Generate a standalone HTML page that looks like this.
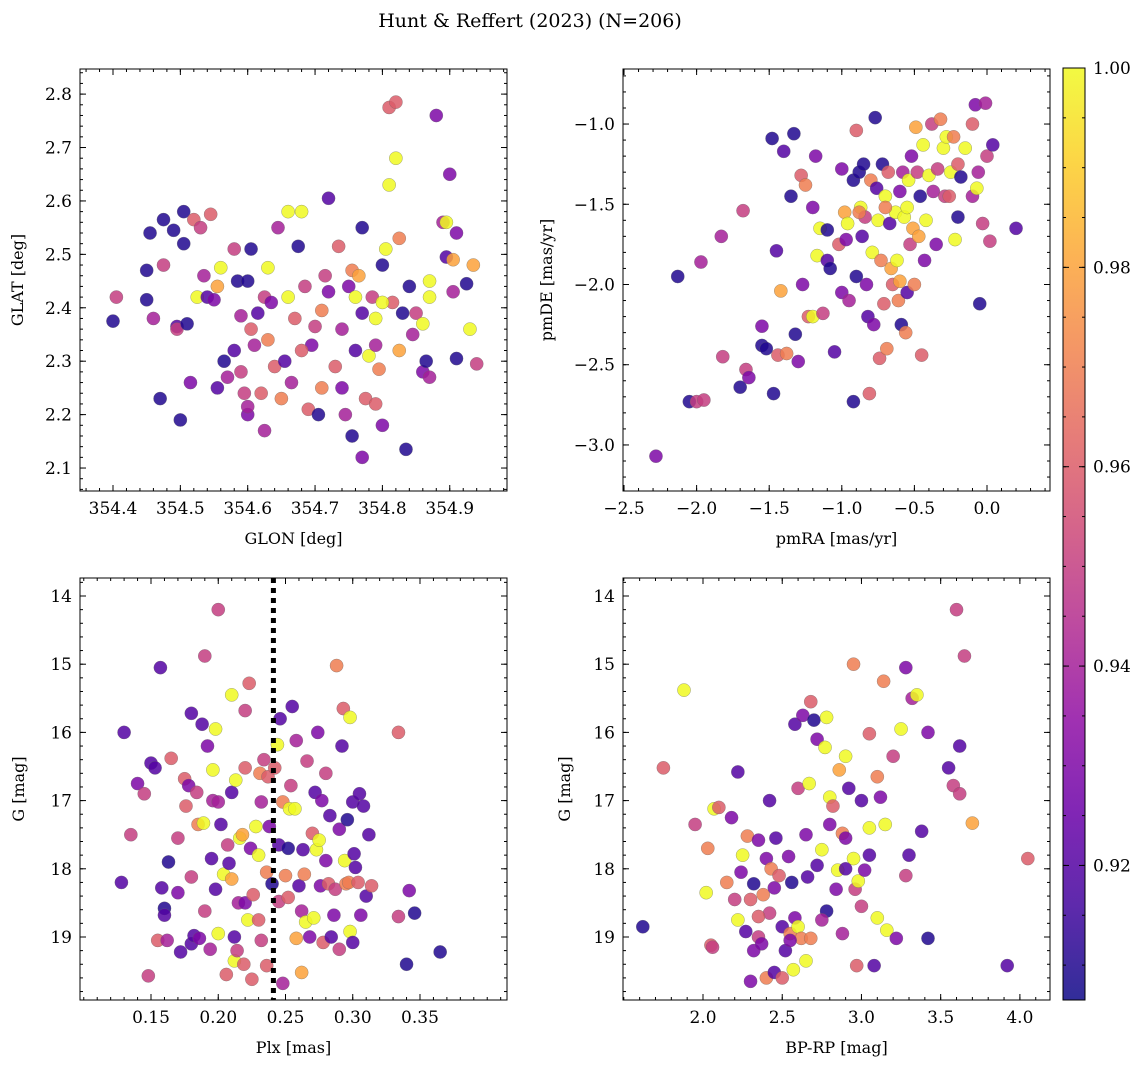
<!DOCTYPE html>
<html><head><meta charset="utf-8"><style>
body{margin:0;background:#fff;}
svg{display:block;font-family:"DejaVu Serif","Liberation Serif",serif;}
</style></head><body>
<svg id="fig" width="1148" height="1068" viewBox="0 0 1148 1068">
<text x="530" y="27" text-anchor="middle" font-size="19">Hunt &amp; Reffert (2023) (N=206)</text>
</svg>
<script>
const cmin=0.9065,cmax=1.0;
const p1=[[354.40,2.375,.91],[354.405,2.42,.95],[354.45,2.47,.91],[354.45,2.415,.91],[354.455,2.54,.91],[354.46,2.38,.94],[354.47,2.23,.91],[354.475,2.565,.91],[354.475,2.48,.95],[354.49,2.545,.91],[354.495,2.365,.92],[354.495,2.36,.95],[354.50,2.19,.91],[354.505,2.58,.91],[354.505,2.52,.91],[354.51,2.37,.91],[354.515,2.26,.93],[354.52,2.565,.96],[354.525,2.42,1.0],[354.53,2.55,.95],[354.535,2.46,.94],[354.54,2.42,.92],[354.545,2.575,.96],[354.55,2.415,.93],[354.555,2.25,.92],[354.555,2.44,.98],[354.56,2.475,1.0],[354.565,2.30,.91],[354.57,2.27,.94],[354.58,2.32,.92],[354.585,2.45,.91],[354.59,2.385,.94],[354.59,2.28,.95],[354.595,2.24,.95],[354.6,2.2,.93],[354.6,2.215,.94],[354.605,2.51,.91],[354.605,2.36,.96],[354.61,2.33,.94],[354.615,2.39,.92],[354.62,2.24,.96],[354.625,2.17,.94],[354.625,2.42,.95],[354.63,2.34,.97],[354.63,2.475,1.0],[354.635,2.41,.93],[354.64,2.29,.96],[354.645,2.55,.94],[354.65,2.23,.97],[354.655,2.3,.92],[354.66,2.42,1.0],[354.66,2.58,1.0],[354.665,2.26,.94],[354.67,2.38,.96],[354.675,2.515,.91],[354.68,2.58,1.0],[354.685,2.44,.95],[354.69,2.21,.96],[354.695,2.33,.93],[354.7,2.365,.95],[354.705,2.2,.91],[354.71,2.395,.97],[354.71,2.25,.97],[354.715,2.46,.95],[354.72,2.605,.92],[354.72,2.43,.93],[354.73,2.29,.96],[354.735,2.515,.96],[354.74,2.36,.94],[354.745,2.2,.94],[354.75,2.44,.93],[354.755,2.47,.97],[354.755,2.16,.91],[354.76,2.32,.92],[354.765,2.46,.98],[354.77,2.12,.93],[354.77,2.39,.92],[354.77,2.55,.91],[354.775,2.23,.96],[354.78,2.31,1.0],[354.785,2.42,.95],[354.79,2.38,1.0],[354.795,2.285,.97],[354.80,2.18,.93],[354.80,2.48,.91],[354.805,2.51,1.0],[354.81,2.775,.96],[354.81,2.63,1.0],[354.815,2.41,.96],[354.82,2.68,1.0],[354.82,2.785,.96],[354.825,2.53,.97],[354.825,2.32,.98],[354.83,2.39,.91],[354.835,2.135,.91],[354.84,2.44,.91],[354.845,2.35,.94],[354.85,2.39,.95],[354.86,2.28,.93],[354.86,2.37,1.0],[354.865,2.3,.91],[354.87,2.27,.94],[354.87,2.42,1.0],[354.87,2.45,1.0],[354.88,2.76,.93],[354.89,2.56,.94],[354.895,2.495,.92],[354.895,2.56,1.0],[354.90,2.65,.93],[354.905,2.43,.94],[354.905,2.49,.98],[354.91,2.54,.93],[354.91,2.305,.91],[354.925,2.445,.91],[354.93,2.36,1.0],[354.935,2.48,.98],[354.94,2.295,.95],[354.8,2.41,1.0],[354.74,2.25,.93],[354.76,2.42,1.0],[354.79,2.33,.94],[354.79,2.22,.96],[354.68,2.32,.96],[354.6,2.45,.91],[354.58,2.51,.95]];
const p2=[[-2.28,-3.07,.93],[-2.13,-1.95,.91],[-2.05,-2.73,.91],[-2.0,-2.73,.95],[-1.97,-1.86,.94],[-1.95,-2.72,.95],[-1.83,-1.70,.94],[-1.82,-2.45,.95],[-1.7,-2.64,.91],[-1.68,-1.54,.95],[-1.66,-2.53,.95],[-1.64,-2.58,.93],[-1.55,-2.26,.93],[-1.55,-2.38,.91],[-1.52,-2.40,.91],[-1.48,-1.09,.91],[-1.47,-2.68,.91],[-1.45,-1.79,.92],[-1.44,-2.44,.96],[-1.42,-2.04,.98],[-1.4,-1.17,.92],[-1.38,-2.43,.97],[-1.35,-1.45,.91],[-1.33,-1.06,.91],[-1.32,-2.31,.91],[-1.3,-2.48,.93],[-1.28,-1.32,.96],[-1.27,-2.0,.93],[-1.25,-1.38,.97],[-1.23,-2.2,.96],[-1.2,-2.2,1.0],[-1.2,-1.52,.93],[-1.18,-1.2,.93],[-1.17,-1.82,1.0],[-1.15,-1.65,1.0],[-1.13,-2.18,.95],[-1.1,-1.85,.92],[-1.1,-1.66,.91],[-1.08,-1.9,.91],[-1.05,-2.42,.92],[-1.02,-1.75,.96],[-1.0,-2.05,.93],[-0.98,-1.55,.98],[-0.97,-1.72,.93],[-0.95,-2.1,.94],[-0.92,-1.35,.91],[-0.92,-2.73,.91],[-0.9,-1.95,.91],[-0.9,-1.04,.96],[-0.88,-1.3,.91],[-0.87,-1.52,1.0],[-0.86,-1.7,.92],[-0.85,-1.25,.91],[-0.84,-1.58,.95],[-0.83,-2.0,.93],[-0.82,-2.2,.92],[-0.81,-2.68,.96],[-0.8,-1.35,.97],[-0.79,-1.8,1.0],[-0.78,-2.25,.93],[-0.77,-0.96,.91],[-0.76,-1.4,.92],[-0.75,-1.6,1.0],[-0.74,-2.46,.96],[-0.73,-1.85,.97],[-0.72,-1.25,.91],[-0.71,-2.12,.96],[-0.7,-1.45,1.0],[-0.69,-2.4,.97],[-0.68,-1.3,.96],[-0.67,-1.62,.92],[-0.66,-1.9,.98],[-0.65,-2.0,.96],[-0.63,-1.55,1.0],[-0.62,-1.85,1.0],[-0.61,-2.1,.97],[-0.6,-1.42,.93],[-0.59,-2.25,.91],[-0.58,-1.3,.94],[-0.57,-1.58,1.0],[-0.56,-2.3,.97],[-0.55,-2.05,.92],[-0.54,-1.35,1.0],[-0.53,-1.75,.95],[-0.52,-1.2,.93],[-0.51,-1.65,.98],[-0.5,-2.0,.97],[-0.49,-1.02,.98],[-0.48,-1.3,.95],[-0.47,-1.7,.98],[-0.46,-1.45,.91],[-0.45,-2.44,.96],[-0.44,-1.13,1.0],[-0.43,-1.85,.93],[-0.42,-1.6,1.0],[-0.4,-1.32,1.0],[-0.38,-1.0,.95],[-0.37,-1.42,.94],[-0.35,-1.75,.93],[-0.34,-1.28,.95],[-0.32,-0.97,.97],[-0.3,-1.15,1.0],[-0.29,-1.45,.95],[-0.28,-1.08,1.0],[-0.26,-1.45,.96],[-0.25,-1.3,1.0],[-0.23,-1.08,.97],[-0.22,-1.72,1.0],[-0.2,-1.58,.91],[-0.2,-1.25,.96],[-0.18,-1.33,.91],[-0.15,-1.15,1.0],[-0.1,-1.45,.94],[-0.1,-1.0,.96],[-0.08,-0.88,.93],[-0.07,-1.4,1.0],[-0.06,-1.3,.94],[-0.05,-2.12,.91],[-0.03,-1.62,.95],[-0.01,-0.87,.94],[0.0,-1.2,.95],[0.02,-1.73,.95],[0.04,-1.13,.92],[0.2,-1.65,.92],[-0.6,-1.98,.98],[-0.88,-1.55,.97],[-1.0,-1.28,.93],[-0.96,-1.62,1.0],[-0.7,-1.52,.97],[-0.55,-1.52,1.0]];
const p3=[[0.128,18.2,.92],[0.13,16.0,.92],[0.135,17.5,.95],[0.14,16.75,.93],[0.145,16.9,.95],[0.148,19.57,.95],[0.15,16.45,.92],[0.153,16.52,.92],[0.155,19.05,.96],[0.157,15.05,.92],[0.158,18.28,.92],[0.16,18.58,.91],[0.16,18.68,.92],[0.162,19.05,.94],[0.163,17.9,.91],[0.165,16.38,.96],[0.17,17.55,.95],[0.17,18.35,.93],[0.172,19.22,.92],[0.175,16.68,.96],[0.176,17.08,.96],[0.178,16.78,.93],[0.18,18.12,.95],[0.18,19.1,.92],[0.18,15.72,.92],[0.182,18.98,.92],[0.184,16.88,.95],[0.185,17.35,.97],[0.186,19.02,.93],[0.188,15.88,.92],[0.189,17.33,1.0],[0.19,18.62,.95],[0.19,14.88,.95],[0.192,16.2,.93],[0.194,19.18,.94],[0.195,17.85,.92],[0.196,17.0,.94],[0.196,16.55,1.0],[0.198,18.3,.92],[0.198,15.95,1.0],[0.2,14.2,.95],[0.2,17.02,.94],[0.2,18.95,1.0],[0.202,17.35,.92],[0.204,18.08,1.0],[0.206,19.55,.96],[0.207,17.65,.95],[0.208,17.92,.92],[0.21,16.88,.92],[0.21,15.45,1.0],[0.21,18.15,.98],[0.212,19.0,.92],[0.212,19.35,1.0],[0.213,16.7,1.0],[0.214,19.2,.95],[0.215,18.5,.94],[0.216,17.55,1.0],[0.218,17.5,.98],[0.219,19.4,.96],[0.22,15.68,.95],[0.22,18.5,.93],[0.22,16.52,.96],[0.222,18.75,1.0],[0.223,15.28,.96],[0.224,17.7,.93],[0.225,19.62,.96],[0.226,18.38,.96],[0.228,17.38,1.0],[0.23,17.8,1.0],[0.23,18.75,.96],[0.231,16.6,.97],[0.232,17.02,.94],[0.232,19.05,.95],[0.234,16.4,.95],[0.236,19.42,.96],[0.236,18.05,.97],[0.237,16.65,.96],[0.238,17.38,.93],[0.24,18.22,.91],[0.242,16.52,.96],[0.244,16.18,1.0],[0.245,17.65,.92],[0.245,18.48,.95],[0.246,15.8,.92],[0.248,19.68,.94],[0.248,17.02,.97],[0.25,18.1,.97],[0.252,17.7,.91],[0.252,18.42,.96],[0.253,17.12,1.0],[0.254,16.78,.95],[0.255,15.62,.92],[0.257,17.12,1.0],[0.258,19.02,.98],[0.258,16.12,.94],[0.26,18.25,.92],[0.262,18.62,.94],[0.262,19.52,.98],[0.263,17.72,.92],[0.264,18.08,.97],[0.265,18.78,1.0],[0.266,16.42,.95],[0.268,19.0,.93],[0.27,17.48,.96],[0.271,18.72,1.0],[0.272,16.88,.92],[0.273,17.72,1.0],[0.274,16.0,.93],[0.275,17.58,1.0],[0.276,18.25,.93],[0.277,17.0,.93],[0.278,19.08,.96],[0.28,16.6,.95],[0.28,17.88,.93],[0.282,18.22,.96],[0.283,17.22,.92],[0.284,19.0,.92],[0.286,18.68,.93],[0.287,18.3,.95],[0.288,15.02,.97],[0.29,19.18,.95],[0.29,17.42,.93],[0.292,16.2,.92],[0.293,15.65,.96],[0.294,17.88,1.0],[0.295,18.22,.97],[0.296,17.28,.91],[0.297,18.2,.97],[0.298,15.78,1.0],[0.298,18.92,1.0],[0.3,17.02,.92],[0.3,19.08,.92],[0.301,17.78,.92],[0.302,17.98,.92],[0.304,18.2,.96],[0.305,16.9,.92],[0.306,18.68,.93],[0.308,17.08,.92],[0.31,18.4,.92],[0.312,17.5,.92],[0.314,18.25,.96],[0.334,16.0,.96],[0.334,18.7,.95],[0.34,19.4,.91],[0.342,18.32,.93],[0.346,18.65,.91],[0.365,19.22,.91]];
const p4=[[1.62,18.85,.91],[1.75,16.52,.96],[1.88,15.38,1.0],[1.95,17.35,.95],[2.02,18.35,1.0],[2.03,17.7,.97],[2.05,19.12,.96],[2.06,19.15,.95],[2.07,17.12,1.0],[2.1,17.1,.96],[2.15,18.2,.97],[2.18,17.25,.93],[2.2,18.45,.95],[2.22,16.58,.92],[2.22,18.75,1.0],[2.24,18.05,.93],[2.25,17.8,1.0],[2.27,18.92,.92],[2.28,17.52,.97],[2.3,19.65,.93],[2.3,18.45,.96],[2.32,19.2,.93],[2.32,18.22,.91],[2.35,19.0,.95],[2.35,17.58,.93],[2.37,19.1,.93],[2.38,18.38,.97],[2.4,19.6,.97],[2.4,17.85,.93],[2.42,17.0,.92],[2.42,18.65,.95],[2.43,18.0,.97],[2.45,19.52,.92],[2.45,18.28,.93],[2.46,17.55,.92],[2.48,18.1,.96],[2.5,18.85,.92],[2.5,19.6,.96],[2.52,19.2,.92],[2.54,17.82,.93],[2.55,18.95,.97],[2.56,18.2,.91],[2.57,19.48,1.0],[2.58,18.72,.93],[2.58,15.88,.92],[2.6,18.85,1.0],[2.6,16.82,.95],[2.62,19.02,.97],[2.63,15.75,.93],[2.65,19.35,1.0],[2.66,18.12,.92],[2.67,16.75,1.0],[2.68,15.55,.96],[2.68,19.02,.97],[2.7,15.82,.91],[2.72,17.95,.92],[2.72,16.1,.93],[2.75,17.72,1.0],[2.77,16.22,1.0],[2.78,15.78,1.0],[2.78,18.62,.91],[2.8,16.95,1.0],[2.8,17.35,.93],[2.82,17.08,.96],[2.84,18.3,.93],[2.85,18.02,1.0],[2.86,16.55,.98],[2.88,17.48,.97],[2.88,18.95,.94],[2.9,16.35,1.0],[2.9,17.55,.93],[2.92,16.82,.92],[2.95,17.85,1.0],[2.95,15.0,.97],[2.96,18.3,.95],[2.97,19.42,.96],[2.98,18.18,1.0],[3.0,17.0,.92],[3.0,18.55,.95],[3.02,18.02,.93],[3.05,16.02,.96],[3.05,17.4,1.0],[3.08,19.42,.92],[3.1,16.65,.97],[3.1,18.72,1.0],[3.12,16.95,.93],[3.14,15.25,.97],[3.15,17.35,1.0],[3.16,18.9,1.0],[3.2,16.35,.95],[3.22,19.02,.93],[3.25,15.95,1.0],[3.28,15.05,.93],[3.28,18.1,.95],[3.3,17.8,.92],[3.32,15.5,.94],[3.35,15.45,1.0],[3.38,17.45,.92],[3.42,16.0,.93],[3.42,19.02,.91],[3.55,16.52,.92],[3.58,16.78,.95],[3.6,14.2,.95],[3.62,16.2,.92],[3.62,16.9,.95],[3.65,14.88,.95],[3.7,17.33,.98],[3.92,19.42,.92],[4.05,17.85,.96],[2.9,18.0,.92],[2.75,18.75,.94],[2.55,19.05,.93],[3.05,17.8,.92],[2.35,18.7,.96],[2.65,17.5,.93]];
const plxCut=0.241;
const ticks1x=[354.4,354.5,354.6,354.7,354.8,354.9], ticks1y=[2.1,2.2,2.3,2.4,2.5,2.6,2.7,2.8];
const ticks2x=[-2.5,-2.0,-1.5,-1.0,-0.5,0.0], ticks2y=[-1.0,-1.5,-2.0,-2.5,-3.0];
const ticks3x=[0.15,0.20,0.25,0.30,0.35], ticksG=[14,15,16,17,18,19];
const ticks4x=[2.0,2.5,3.0,3.5,4.0], ticksC=[0.92,0.94,0.96,0.98,1.00];

const NS="http://www.w3.org/2000/svg", svg=document.getElementById('fig');
function mk(tag,attrs,parent){const e=document.createElementNS(NS,tag);for(const k in attrs)e.setAttribute(k,attrs[k]);(parent||svg).appendChild(e);return e;}
const stops=["#0d0887","#41049d","#6a00a8","#8f0da4","#b12a90","#cc4778","#e16462","#f2844b","#fca636","#fcce25","#f0f921"];
function hex(h){return [1,3,5].map(i=>parseInt(h.substr(i,2),16));}
function plasma(t){t=Math.max(0,Math.min(1,t));const f=t*10,i=Math.min(9,Math.floor(f)),u=f-i;const a=hex(stops[i]),b=hex(stops[i+1]);return 'rgb('+a.map((v,k)=>Math.round(v+(b[k]-v)*u)).join(',')+')';}
function fmt(v,d){return v.toFixed(d).replace('-','\u2212');}

function panel(o){
  const g=mk('g',{});
  
  
  const sx=v=>o.x0+(v-o.xmin)/(o.xmax-o.xmin)*(o.x1-o.x0);
  const sy=v=>o.ylo_top? o.y0+(v-o.ymin)/(o.ymax-o.ymin)*(o.y1-o.y0) : o.y1-(v-o.ymin)/(o.ymax-o.ymin)*(o.y1-o.y0);
  const pts=mk('g',{},g);
  
  
  o.data.forEach(d=>{
    const c=mk('circle',{cx:sx(d[0]),cy:sy(d[1]),r:6.6,fill:plasma((d[2]-cmin)/(cmax-cmin)),'fill-opacity':0.85,stroke:'#666','stroke-width':0.5,'stroke-opacity':0.6},pts);
    
    
  });
  if(o.vline!==undefined){
    const l=mk('line',{x1:sx(o.vline),x2:sx(o.vline),y1:o.y0,y2:o.y1,stroke:'#000','stroke-width':5,'stroke-dasharray':'5,5'},g);
    
    
  }
  mk('rect',{x:o.x0,y:o.y0,width:o.x1-o.x0,height:o.y1-o.y0,fill:'none',stroke:'#000','stroke-width':1},g);
  for(let v=Math.ceil(o.xmin/o.xm)*o.xm;v<=o.xmax;v+=o.xm){const X=sx(v);mk('line',{x1:X,x2:X,y1:o.y1,y2:o.y1-3,stroke:'#000'},g);mk('line',{x1:X,x2:X,y1:o.y0,y2:o.y0+3,stroke:'#000'},g);}
  for(let v=Math.ceil(o.ymin/o.ym)*o.ym;v<=o.ymax;v+=o.ym){const Y=sy(v);mk('line',{x1:o.x0,x2:o.x0+3,y1:Y,y2:Y,stroke:'#000'},g);mk('line',{x1:o.x1,x2:o.x1-3,y1:Y,y2:Y,stroke:'#000'},g);}
  o.xt.forEach(v=>{const X=sx(v);mk('line',{x1:X,x2:X,y1:o.y1,y2:o.y1-6,stroke:'#000'},g);mk('line',{x1:X,x2:X,y1:o.y0,y2:o.y0+6,stroke:'#000'},g);
    const t=mk('text',{x:X,y:o.y1+23,'text-anchor':'middle','font-size':17},g);t.textContent=fmt(v,o.xd);
    });
  o.yt.forEach(v=>{const Y=sy(v);mk('line',{x1:o.x0,x2:o.x0+6,y1:Y,y2:Y,stroke:'#000'},g);mk('line',{x1:o.x1,x2:o.x1-6,y1:Y,y2:Y,stroke:'#000'},g);
    const t=mk('text',{x:o.x0-8,y:Y+6,'text-anchor':'end','font-size':17},g);t.textContent=fmt(v,o.yd);
    });
  const xl=mk('text',{x:(o.x0+o.x1)/2,y:o.y1+53,'text-anchor':'middle','font-size':16},g);xl.textContent=o.xlab;
  
  const yl=mk('text',{x:0,y:0,'text-anchor':'middle','font-size':16,transform:`translate(${o.ylx},${(o.y0+o.y1)/2}) rotate(-90)`},g);yl.textContent=o.ylab;
  
}
panel({name:'glon-glat-panel',data:p1,x0:80,x1:507,y0:69,y1:491,xmin:354.351,xmax:354.985,ymin:2.057,ymax:2.847,xm:0.02,ym:0.02,xt:ticks1x,yt:ticks1y,xd:1,yd:1,xlab:'GLON [deg]',ylab:'GLAT [deg]',ylx:23});
panel({name:'proper-motion-panel',data:p2,x0:623,x1:1050,y0:69,y1:491,xmin:-2.507,xmax:0.434,ymin:-3.287,ymax:-0.657,xm:0.1,ym:0.1,xt:ticks2x,yt:ticks2y,xd:1,yd:1,xlab:'pmRA [mas/yr]',ylab:'pmDE [mas/yr]',ylx:552});
panel({name:'plx-g-panel',data:p3,x0:80,x1:507,y0:578,y1:1000,xmin:0.0972,xmax:0.4147,ymin:13.736,ymax:19.924,ylo_top:true,xm:0.01,ym:0.2,xt:ticks3x,yt:ticksG,xd:2,yd:0,xlab:'Plx [mas]',ylab:'G [mag]',ylx:24,vline:plxCut});
panel({name:'color-magnitude-panel',data:p4,x0:623,x1:1050,y0:578,y1:1000,xmin:1.495,xmax:4.19,ymin:13.736,ymax:19.924,ylo_top:true,xm:0.1,ym:0.2,xt:ticks4x,yt:ticksG,xd:1,yd:0,xlab:'BP-RP [mag]',ylab:'G [mag]',ylx:570});

const cb=mk('g',{});


const defs=mk('defs',{},cb);const lg=mk('linearGradient',{id:'pl',x1:0,y1:1,x2:0,y2:0},defs);
stops.forEach((s,i)=>mk('stop',{offset:i/10,'stop-color':s,'stop-opacity':0.85},lg));
const cx0=1063,cx1=1085,cy0=68,cy1=1000;const cy=v=>cy1-(v-cmin)/(cmax-cmin)*(cy1-cy0);
mk('rect',{x:cx0,y:cy0,width:cx1-cx0,height:cy1-cy0,fill:'url(#pl)',stroke:'#000'},cb);
for(let v=0.91;v<=1.0001;v+=0.005){const Y=cy(v);mk('line',{x1:cx1,x2:cx1-3,y1:Y,y2:Y,stroke:'#000'},cb);mk('line',{x1:cx0,x2:cx0+3,y1:Y,y2:Y,stroke:'#000'},cb);}
ticksC.forEach(v=>{const Y=cy(v);mk('line',{x1:cx1,x2:cx1-6,y1:Y,y2:Y,stroke:'#000'},cb);mk('line',{x1:cx0,x2:cx0+6,y1:Y,y2:Y,stroke:'#000'},cb);
  const t=mk('text',{x:cx1+8,y:Y+6,'font-size':17},cb);t.textContent=v.toFixed(2);
  });
</script>
</body></html>
